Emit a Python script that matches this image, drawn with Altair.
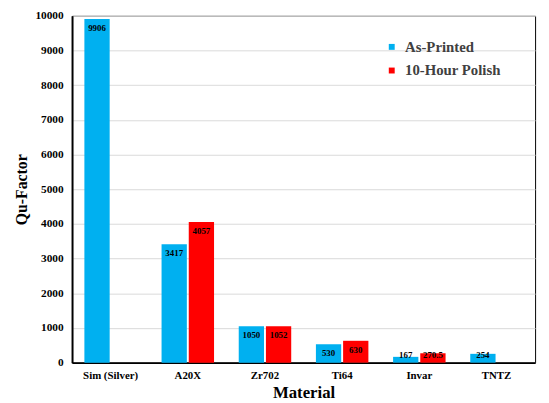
import altair as alt
import pandas as pd

materials = ["Sim (Silver)", "A20X", "Zr702", "Ti64", "Invar", "TNTZ"]
series_names = ["As-Printed", "10-Hour Polish"]
as_printed = [9906, 3417, 1050, 530, 167, 254]
polished = [None, 4057, 1052, 630, 270.5, None]
colors = ["#00B0F0", "#FF0000"]
y_ticks = [0, 1000, 2000, 3000, 4000, 5000, 6000, 7000, 8000, 9000, 10000]

rows = []
for m, a, p in zip(materials, as_printed, polished):
    for s, v in ((series_names[0], a), (series_names[1], p)):
        if v is not None:
            rows.append({"Material": m, "Series": s, "Value": v, "Label": f"{v:g}"})
df = pd.DataFrame(rows)

FONT = "Liberation Serif"

x_axis = alt.Axis(labelAngle=0, ticks=False, labelPadding=7,
                  labelFont=FONT, labelFontWeight="bold", labelFontSize=11,
                  labelColor="#000", titleFont=FONT, titleFontWeight="bold",
                  titleFontSize=17, titleColor="#000", titlePadding=4,
                  domainColor="#000", domainWidth=2)
x_scale = alt.Scale(paddingInner=0.32, paddingOuter=0.16)
xo = alt.XOffset("Series:N", sort=series_names,
                 scale=alt.Scale(paddingInner=0.07))

y_axis = alt.Axis(values=y_ticks, format="d", labelOverlap=False,
                  ticks=False, labelPadding=9, labelFont=FONT,
                  labelFontWeight="bold", labelFontSize=11.5,
                  labelColor="#000",
                  titleFont=FONT, titleFontWeight="bold", titleFontSize=16,
                  titleColor="#000", titlePadding=5,
                  gridColor="#D9D9D9", gridWidth=1,
                  domainColor="#000", domainWidth=2)
y_scale = alt.Scale(domain=[0, 10000], nice=False)

bars = alt.Chart(df).mark_bar().encode(
    x=alt.X("Material:N", sort=materials, title="Material", scale=x_scale, axis=x_axis),
    xOffset=xo,
    y=alt.Y("Value:Q", title="Qu-Factor", scale=y_scale, axis=y_axis),
    color=alt.Color("Series:N", sort=series_names,
                    scale=alt.Scale(domain=series_names, range=colors),
                    legend=alt.Legend(title=None, orient="none", legendX=317,
                                      legendY=24, symbolType="square",
                                      symbolSize=36, symbolStrokeWidth=0,
                                      labelFont=FONT, labelFontWeight="bold",
                                      labelFontSize=15, labelColor="#404040",
                                      labelOffset=6, rowPadding=8, padding=0)),
)

labels = alt.Chart(df).transform_calculate(
    LabelPos="datum.Value < 483 ? 483 : datum.Value"
).mark_text(font=FONT, fontWeight="bold", fontSize=9, color="#000",
            baseline="middle", dy=9).encode(
    x=alt.X("Material:N", sort=materials, title="Material", scale=x_scale, axis=x_axis),
    xOffset=xo,
    y=alt.Y("LabelPos:Q", title="Qu-Factor", scale=y_scale, axis=y_axis),
    text="Label:N",
)

chart = (bars + labels).properties(
    width=470, height=352,
    autosize=alt.AutoSizeParams(type="none"),
    padding={"left": 65, "top": 5, "right": 6, "bottom": 38},
).configure_view(stroke="#000", strokeWidth=1).configure_legend(
    labelFont=FONT, labelFontWeight="bold", labelFontSize=15, labelColor="#404040"
)

chart.save("out.html", embed_options={"renderer": "svg", "actions": False})
